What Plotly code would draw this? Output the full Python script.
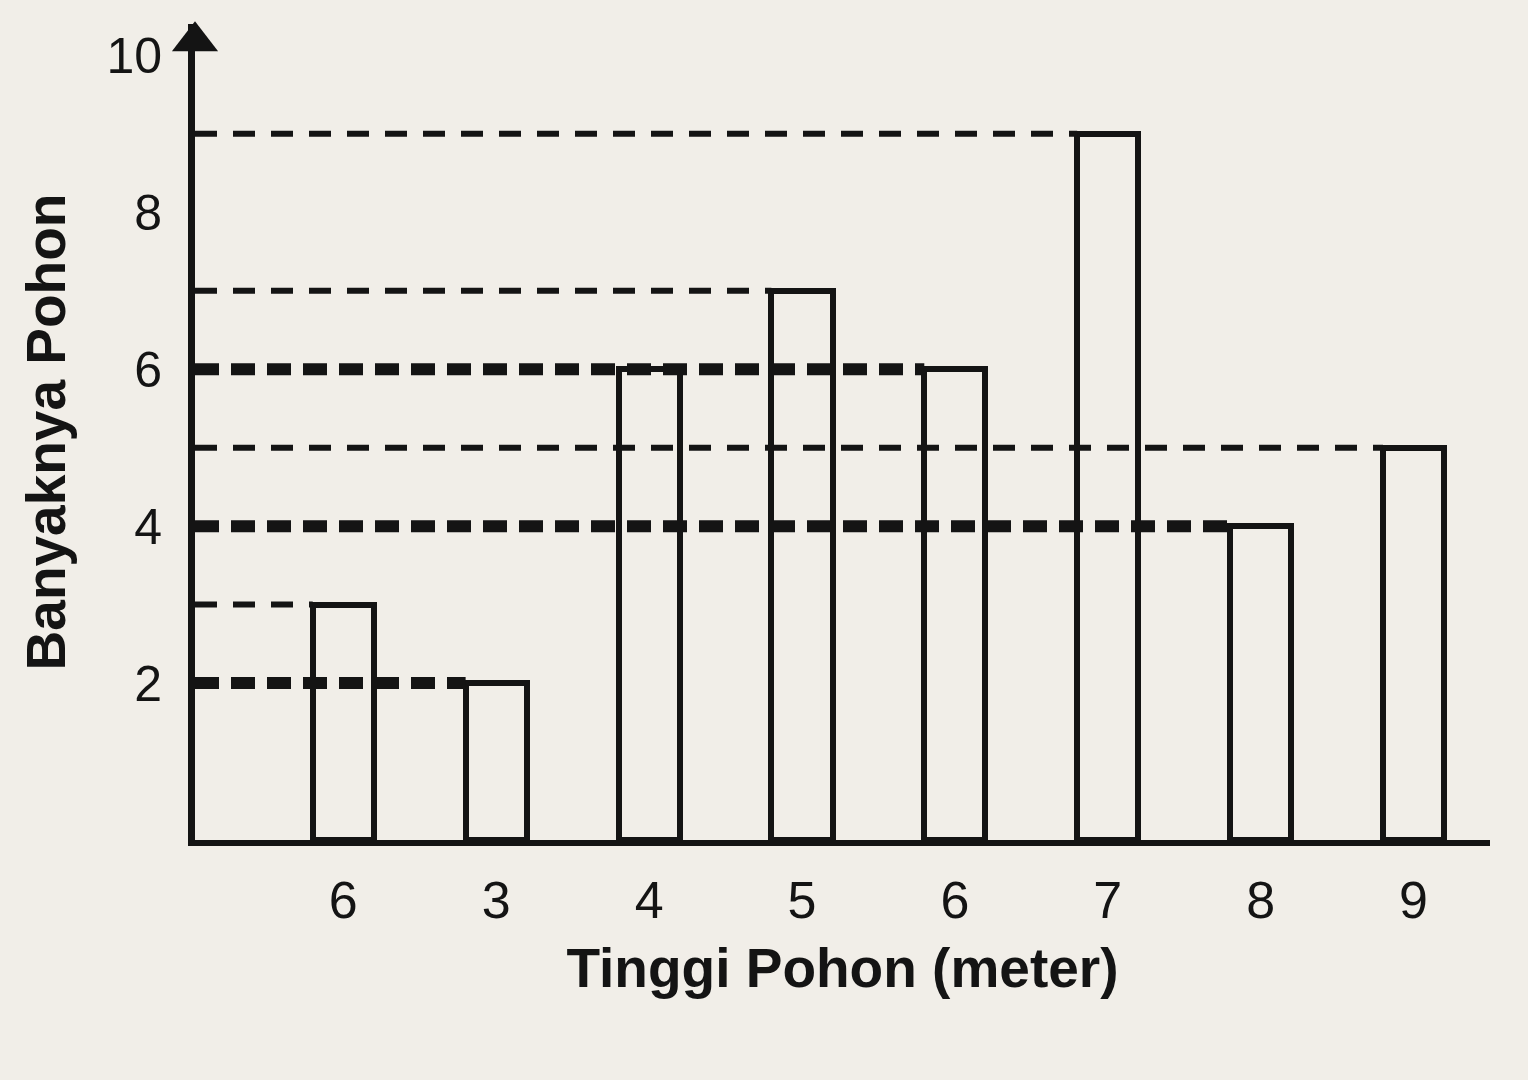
import plotly.graph_objects as go

# Data
categories = ["6", "3", "4", "5", "6", "7", "8", "9"]   # Tinggi Pohon (meter) labels as printed
counts = [3, 2, 6, 7, 6, 9, 4, 5]                        # Banyaknya Pohon
y_ticks = [2, 4, 6, 8, 10]

BG = "#f1eee8"
INK = "#141414"
BAR_W = 0.4
positions = list(range(len(categories)))

fig = go.Figure()
fig.add_trace(go.Bar(
    x=positions, y=counts, width=BAR_W,
    marker=dict(color=BG, line=dict(color=INK, width=6)),
    hoverinfo="x+y", showlegend=False,
))

# arrow head on top of the y axis
X0 = -0.97
YMAX = 10.4
fig.add_trace(go.Scatter(
    x=[X0], y=[YMAX - 0.22], mode="markers",
    marker=dict(symbol="triangle-up", size=40, color=INK),
    cliponaxis=False, showlegend=False, hoverinfo="skip",
))

# dashed guide lines from the y axis to the last bar with each value
shapes = []
for v in sorted(set(counts)):
    last = max(i for i, c in enumerate(counts) if c == v)
    thick = (v % 2 == 0)
    shapes.append(dict(
        type="line", xref="x", yref="y", layer="above",
        x0=X0, x1=positions[last] - BAR_W / 2, y0=v, y1=v,
        line=dict(color=INK, width=12 if thick else 6,
                  dash="24px,12px" if thick else "22px,16px"),
    ))

fig.update_layout(
    width=1528, height=1080,
    paper_bgcolor=BG, plot_bgcolor=BG,
    margin=dict(l=195, r=38, t=24, b=240),
    font=dict(family="Liberation Sans, Arial, sans-serif", color=INK),
    shapes=shapes,
    bargap=0,
    xaxis=dict(
        range=[X0, 7.5], tickvals=positions, ticktext=categories,
        showgrid=False, zeroline=False, showline=True, linecolor=INK, linewidth=6,
        ticks="", tickfont=dict(size=52), ticklabelstandoff=10,
        title=dict(text="<b>Tinggi Pohon (meter)</b>", font=dict(size=55), standoff=22),
    ),
    yaxis=dict(
        range=[0, YMAX], tickvals=y_ticks, ticktext=[str(t) for t in y_ticks],
        showgrid=False, zeroline=False, showline=True, linecolor=INK, linewidth=7,
        ticks="", tickfont=dict(size=50), ticklabelstandoff=16,
        title=dict(text="<b>Banyaknya Pohon</b>", font=dict(size=55), standoff=26),
    ),
)

fig.write_html(
    "out.html",
    config={"displayModeBar": False},
    post_script="document.body.style.margin='0';document.body.style.background='%s';" % BG,
)
